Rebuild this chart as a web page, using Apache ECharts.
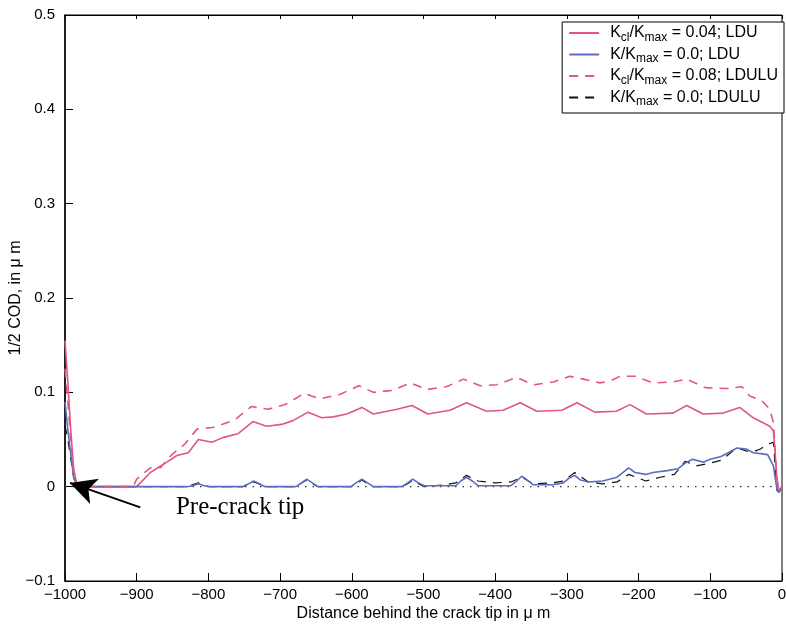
<!DOCTYPE html>
<html>
<head>
<meta charset="utf-8">
<script src="https://cdn.jsdelivr.net/npm/echarts@6/dist/echarts.min.js"></script>
<style>
  html, body { margin: 0; padding: 0; background: #fff; }
  #chart { width: 786px; height: 627px; }
</style>
</head>
<body>
<div id="chart"></div>
<script>
// Half crack-opening displacement behind the crack tip, four load cases.

// K_cl/K_max = 0.04; LDU (solid red)
const xLduCl = [-1000, -996, -992, -988, -984, -980, -900, -881, -858, -844, -828, -814, -795, -780, -759, -738, -719, -698, -682, -661, -642, -626, -607, -586, -570, -537, -516, -494, -463, -440, -412, -389, -365, -342, -307, -286, -261, -231, -212, -189, -152, -133, -110, -82, -59, -40, -17, -12, -10, -7, -5, 0];
const yLduCl = [0.155, 0.11, 0.06, 0.02, 0.004, 0, 0, 0.015, 0.026, 0.033, 0.036, 0.050, 0.047, 0.052, 0.056, 0.069, 0.064, 0.066, 0.070, 0.079, 0.073, 0.074, 0.077, 0.084, 0.077, 0.082, 0.086, 0.077, 0.081, 0.089, 0.080, 0.081, 0.089, 0.080, 0.081, 0.089, 0.079, 0.080, 0.087, 0.077, 0.078, 0.086, 0.077, 0.078, 0.084, 0.073, 0.064, 0.059, 0.040, 0.008, -0.004, 0];

// K/K_max = 0.0; LDU (solid blue)
const xLdu0 = [-1000, -996, -992, -988, -984, -980, -830, -822, -814, -806, -798, -752, -744, -737, -729, -721, -678, -670, -663, -655, -647, -601, -594, -586, -578, -570, -530, -522, -515, -507, -499, -455, -448, -440, -432, -424, -378, -370, -363, -355, -347, -320, -305, -297, -289, -281, -270, -250, -230, -222, -214, -205, -190, -180, -160, -145, -135, -125, -110, -100, -85, -75, -63, -50, -40, -30, -20, -12, -7, -4, 0];
const yLdu0 = [0.09, 0.06, 0.035, 0.01, 0.002, 0, 0, 0.001, 0.003, 0.001, 0, 0, 0.003, 0.006, 0.003, 0, 0, 0.004, 0.008, 0.004, 0, 0, 0.004, 0.008, 0.004, 0, 0, 0.004, 0.008, 0.004, 0.001, 0.001, 0.006, 0.010, 0.006, 0.001, 0.001, 0.006, 0.011, 0.007, 0.002, 0.002, 0.004, 0.009, 0.012, 0.007, 0.005, 0.006, 0.010, 0.015, 0.020, 0.015, 0.013, 0.015, 0.017, 0.019, 0.025, 0.029, 0.026, 0.029, 0.032, 0.036, 0.041, 0.040, 0.036, 0.035, 0.034, 0.022, -0.003, -0.006, 0];

// K_cl/K_max = 0.08; LDULU (dashed red)
const xLduluCl = [-1000, -996, -992, -988, -984, -980, -905, -900, -881, -867, -851, -833, -816, -791, -763, -740, -717, -693, -666, -645, -616, -590, -570, -543, -518, -495, -468, -444, -421, -398, -370, -347, -319, -296, -277, -254, -240, -226, -205, -179, -152, -133, -107, -77, -56, -45, -28, -17, -12, -8, -5, 0];
const yLduluCl = [0.125, 0.09, 0.05, 0.015, 0.003, 0, 0, 0.008, 0.020, 0.020, 0.034, 0.045, 0.061, 0.063, 0.071, 0.085, 0.082, 0.087, 0.099, 0.093, 0.098, 0.107, 0.100, 0.102, 0.110, 0.103, 0.106, 0.114, 0.107, 0.108, 0.116, 0.108, 0.111, 0.117, 0.114, 0.110, 0.112, 0.117, 0.117, 0.110, 0.111, 0.114, 0.105, 0.104, 0.106, 0.096, 0.091, 0.082, 0.068, 0.020, -0.004, 0];

// K/K_max = 0.0; LDULU (dashed black)
const xLdulu0 = [-1000, -996, -992, -988, -984, -980, -830, -822, -814, -806, -798, -752, -744, -737, -729, -721, -678, -670, -663, -655, -647, -601, -594, -586, -578, -570, -530, -522, -515, -507, -499, -470, -455, -440, -424, -400, -378, -363, -347, -320, -305, -289, -270, -250, -230, -214, -200, -190, -170, -150, -135, -120, -100, -85, -63, -50, -40, -30, -20, -12, -7, -4, 0];
const yLdulu0 = [0.065, 0.05, 0.03, 0.01, 0.002, 0, 0, 0.002, 0.004, 0.001, 0, 0, 0.003, 0.005, 0.003, 0, 0, 0.004, 0.007, 0.003, 0, 0, 0.003, 0.007, 0.003, 0, 0, 0.003, 0.007, 0.003, 0, 0.002, 0.004, 0.012, 0.006, 0.004, 0.005, 0.010, 0.003, 0.004, 0.006, 0.015, 0.005, 0.003, 0.005, 0.013, 0.009, 0.006, 0.010, 0.013, 0.027, 0.022, 0.025, 0.028, 0.041, 0.038, 0.037, 0.040, 0.045, 0.047, -0.004, -0.006, 0];

// Zero reference line and the pre-crack tip annotation
const xZero = [-1000, 0];
const yZero = [0, 0];
const arrowTail = [-895, -0.022];
const arrowTip = [-993, 0.004];
const noteAt = [-846, -0.022];
const noteText = 'Pre-crack tip';

const legendNames = [
  'K_cl/K_max = 0.04; LDU',
  'K/K_max = 0.0; LDU',
  'K_cl/K_max = 0.08; LDULU',
  'K/K_max = 0.0; LDULU'
];
const legendRich = {
  'K_cl/K_max = 0.04; LDU': '{n|K}{s|cl}{n|/K}{s|max}{n| = 0.04; LDU}',
  'K/K_max = 0.0; LDU': '{n|K/K}{s|max}{n| = 0.0; LDU}',
  'K_cl/K_max = 0.08; LDULU': '{n|K}{s|cl}{n|/K}{s|max}{n| = 0.08; LDULU}',
  'K/K_max = 0.0; LDULU': '{n|K/K}{s|max}{n| = 0.0; LDULU}'
};

const zip = (xs, ys) => xs.map((x, i) => [x, ys[i]]);
const minus = s => s.replace('-', '\u2212');
const FONT = 'Liberation Sans, Arial, Helvetica, sans-serif';

const RED = '#e2577a';
const BLUE = '#5c6cc4';

const chart = echarts.init(document.getElementById('chart'), null, { renderer: 'canvas' });

chart.setOption({
  animation: false,
  backgroundColor: '#ffffff',
  grid: {
    left: 65, right: 4, top: 15, bottom: 46,
    containLabel: false, outerBoundsMode: 'none',
    show: true, borderColor: '#000', borderWidth: 1
  },
  legend: {
    data: legendNames,
    orient: 'vertical',
    right: 2,
    top: 22,
    itemWidth: 30,
    itemHeight: 10,
    itemGap: 3,
    padding: [3, 6, 5, 6],
    backgroundColor: '#fff',
    borderColor: '#000',
    borderWidth: 1,
    itemStyle: { opacity: 0 },
    formatter: name => legendRich[name],
    textStyle: {
      fontFamily: FONT,
      padding: [0, 0, 0, 6],
      rich: {
        n: { fontSize: 16, fontFamily: FONT, color: '#000', lineHeight: 21, verticalAlign: 'middle' },
        s: { fontSize: 12, fontFamily: FONT, color: '#000', lineHeight: 10, verticalAlign: 'bottom' }
      }
    }
  },
  xAxis: [{
    type: 'value',
    min: -1000, max: 0, interval: 100,
    position: 'bottom',
    name: 'Distance behind the crack tip in \u03bc m',
    nameLocation: 'middle',
    nameGap: 25,
    nameMoveOverlap: false,
    nameTextStyle: { fontFamily: FONT, fontSize: 16, color: '#000' },
    axisLine: { show: true, onZero: false, lineStyle: { color: '#000', width: 1 } },
    axisTick: { inside: true, length: 8, lineStyle: { color: '#000' } },
    axisLabel: { fontFamily: FONT, fontSize: 15, color: '#000', margin: 6, formatter: v => minus(String(v)) },
    splitLine: { show: false }
  }, {
    type: 'value',
    min: -1000, max: 0, interval: 100,
    position: 'top',
    axisLine: { show: true, onZero: false, lineStyle: { color: '#000', width: 1 } },
    axisTick: { inside: true, length: 4, lineStyle: { color: '#000' } },
    axisLabel: { show: false },
    splitLine: { show: false }
  }],
  yAxis: [{
    type: 'value',
    min: -0.1, max: 0.5, interval: 0.1,
    name: '1/2 COD, in \u03bc m',
    nameLocation: 'middle',
    nameGap: 41,
    nameMoveOverlap: false,
    nameTextStyle: { fontFamily: FONT, fontSize: 16, color: '#000' },
    axisLine: { show: true, onZero: false, lineStyle: { color: '#000', width: 1.5 } },
    axisTick: { inside: true, length: 8, lineStyle: { color: '#000' } },
    axisLabel: {
      fontFamily: FONT, fontSize: 15, color: '#000', margin: 10,
      formatter: v => minus(String(+v.toFixed(1)))
    },
    splitLine: { show: false }
  }],
  series: [
    {
      name: 'zero',
      type: 'line',
      data: zip(xZero, yZero),
      symbol: 'none',
      silent: true,
      lineStyle: { color: '#333', width: 1.3, type: [1.5, 6] },
      z: 1,
      markLine: {
        silent: true,
        symbol: ['none', 'arrow'],
        symbolSize: [20, 26],
        lineStyle: { color: '#000', width: 2, type: 'solid' },
        label: { show: false },
        data: [[{ coord: arrowTail }, { coord: arrowTip }]]
      },
      markPoint: {
        silent: true,
        symbol: 'circle',
        symbolSize: 1,
        itemStyle: { color: 'rgba(0,0,0,0)' },
        label: {
          show: true,
          position: 'right',
          distance: 0,
          formatter: noteText,
          fontFamily: 'Liberation Serif, Times New Roman, serif',
          fontSize: 25,
          color: '#000'
        },
        data: [{ coord: noteAt }]
      }
    },
    {
      name: legendNames[0],
      type: 'line',
      data: zip(xLduCl, yLduCl),
      symbol: 'none',
      lineStyle: { color: RED, width: 1.6 },
      itemStyle: { color: RED },
      z: 3
    },
    {
      name: legendNames[1],
      type: 'line',
      data: zip(xLdu0, yLdu0),
      symbol: 'none',
      lineStyle: { color: BLUE, width: 1.6 },
      itemStyle: { color: BLUE },
      z: 3
    },
    {
      name: legendNames[2],
      type: 'line',
      data: zip(xLduluCl, yLduluCl),
      symbol: 'none',
      lineStyle: { color: RED, width: 1.6, type: [9, 7] },
      itemStyle: { color: RED },
      z: 3
    },
    {
      name: legendNames[3],
      type: 'line',
      data: zip(xLdulu0, yLdulu0),
      symbol: 'none',
      lineStyle: { color: '#111', width: 1.2, type: [9, 7] },
      itemStyle: { color: '#111' },
      z: 2
    }
  ]
});
</script>
</body>
</html>
